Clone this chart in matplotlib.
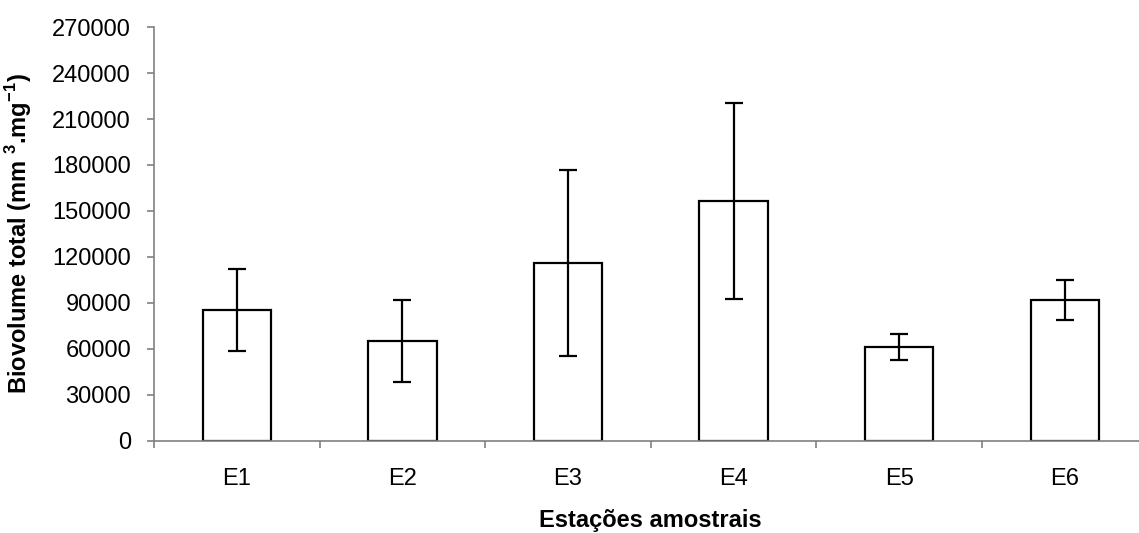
import matplotlib.pyplot as plt
import numpy as np

plt.rcParams['font.family'] = ['Liberation Sans', 'DejaVu Sans']
plt.rcParams['mathtext.fontset'] = 'custom'
plt.rcParams['mathtext.rm'] = 'Liberation Sans'
plt.rcParams['mathtext.bf'] = 'Liberation Sans:bold'

stations = ["E1", "E2", "E3", "E4", "E5", "E6"]
biovolume = [85300, 65000, 116000, 156500, 61200, 91800]
errors = [26700, 26700, 60500, 64000, 8400, 13300]
yticks = np.arange(0, 270001, 30000)

fig = plt.figure(figsize=(11.39, 5.33), dpi=100)
ax = fig.add_axes([154 / 1139, 1 - 440.7 / 533, (1147.6 - 154) / 1139, 413.6 / 533])

x = np.arange(len(stations))
ax.bar(x, biovolume, width=0.414, color='white', edgecolor='black', linewidth=1.6,
       yerr=errors, capsize=6.5, error_kw=dict(elinewidth=1.6, capthick=1.6, ecolor='black'))

ax.set_xlim(-0.5, len(stations) - 0.5)
ax.set_ylim(0, 270000)
ax.set_yticks(yticks)
ax.set_yticklabels([str(v) for v in yticks])
# category boundaries get the tick marks, names sit between them
ax.set_xticks(np.arange(len(stations) + 1) - 0.5)
ax.set_xticklabels([])
ax.set_xticks(x, minor=True)
ax.set_xticklabels(stations, minor=True)
ax.tick_params(axis='x', which='minor', length=0, pad=19.5, labelsize=17)
ax.tick_params(axis='x', which='major', length=5, color='#808080', width=1.2)
ax.tick_params(axis='y', length=5, color='#808080', width=1.2, labelsize=17, pad=11.5)

for side in ['top', 'right']:
    ax.spines[side].set_visible(False)
for side in ['left', 'bottom']:
    ax.spines[side].set_color('#808080')
    ax.spines[side].set_linewidth(1.2)

ax.set_ylabel(r"Biovolume total (mm $^{\mathbf{3}}$.mg$^{\mathbf{-1}}$)", fontsize=17,
              fontweight='bold')
ax.yaxis.set_label_coords(-0.121, 0.5)
ax.set_xlabel("Estações amostrais", fontsize=17, fontweight='bold')
ax.xaxis.set_label_coords(0.5, -0.165)

fig.savefig("out.png", dpi=100)
